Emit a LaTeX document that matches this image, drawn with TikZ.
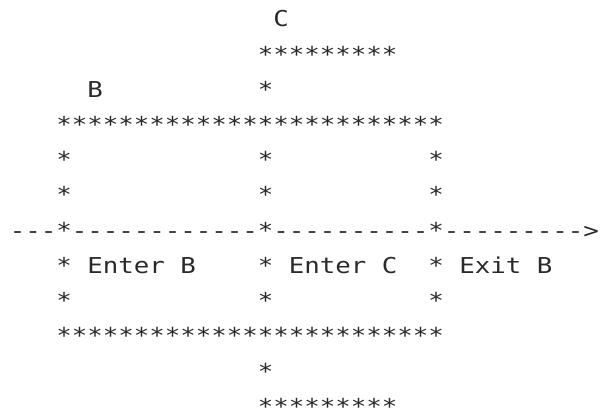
\documentclass[tikz,border=0pt]{standalone}
\usepackage{fontspec}
\setmonofont[FakeStretch=1.176]{DejaVu Sans Mono}
\definecolor{ink}{HTML}{2A2A2A}
\tikzset{
  cell/.style={anchor=base west, inner sep=0pt, outer sep=0pt, text=ink,
    font=\ttfamily\fontsize{21.9}{35.2}\selectfont}
}
\begin{document}
\begin{tikzpicture}[x=1pt,y=1pt]
\useasboundingbox (0,0) rectangle (600,413);
% character grid: one column = 15.5pt, one row = 35.2pt
\begin{scope}[shift={(9.75,386)}, x=15.5pt, y=-35.2pt]
  % region C (top)
  \node[cell] (labC)  at (17,0) {C};
  \node[cell] (ctop)  at (16,1) {*********};
  \node[cell] (labB)  at (5,2)  {B};
  \node[cell] (cstem) at (16,2) {*};
  % region B outline
  \node[cell] (btop)  at (3,3)  {*************************};
  \node[cell] (l5a) at (3,4)  {*};
  \node[cell] (l5b) at (16,4) {*};
  \node[cell] (l5c) at (27,4) {*};
  \node[cell] (l6a) at (3,5)  {*};
  \node[cell] (l6b) at (16,5) {*};
  \node[cell] (l6c) at (27,5) {*};
  % the path crossing the regions
  \node[cell] (path) at (0,6) {---*------------*----------*--------->};
  \node[cell] (l8a) at (3,7)  {*};
  \node[cell] (entB) at (5,7) {Enter B};
  \node[cell] (l8b) at (16,7) {*};
  \node[cell] (entC) at (18,7) {Enter C};
  \node[cell] (l8c) at (27,7) {*};
  \node[cell] (exB) at (29,7) {Exit B};
  \node[cell] (l9a) at (3,8)  {*};
  \node[cell] (l9b) at (16,8) {*};
  \node[cell] (l9c) at (27,8) {*};
  \node[cell] (bbot)  at (3,9)  {*************************};
  % region C (bottom)
  \node[cell] (cstem2) at (16,10) {*};
  \node[cell] (cbot)   at (16,11) {*********};
\end{scope}
\end{tikzpicture}
\end{document}
